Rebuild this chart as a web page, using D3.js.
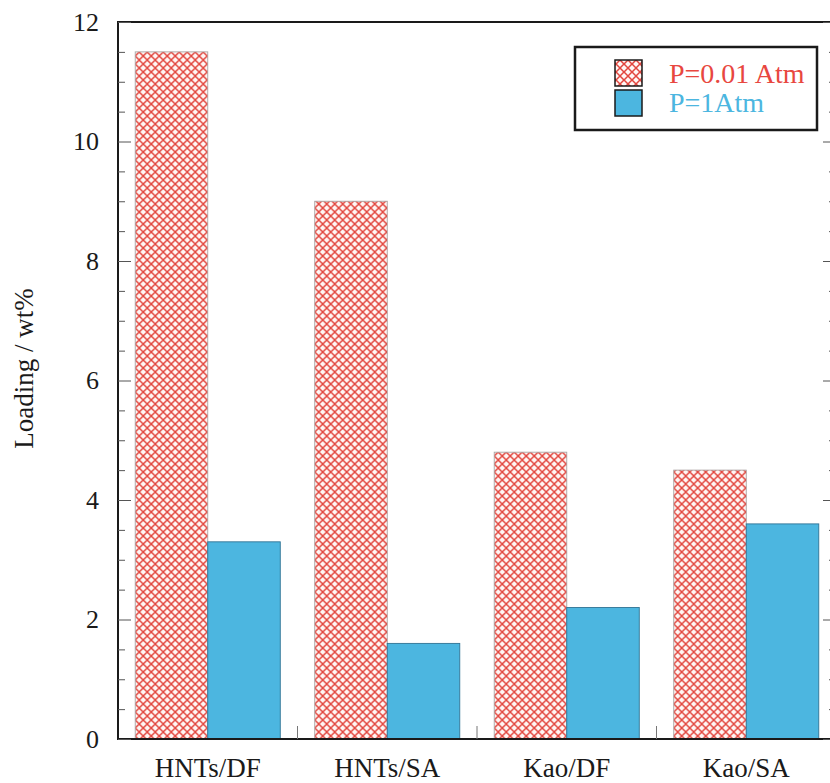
<!DOCTYPE html>
<html>
<head>
<meta charset="utf-8">
<script src="https://cdn.jsdelivr.net/npm/d3@7"></script>
<style>
  html, body { margin: 0; padding: 0; background: #fff; }
  svg { display: block; }
  svg text { font-family: "Liberation Serif", "Times New Roman", serif !important; }
</style>
</head>
<body>
<svg id="chart" width="830" height="783"></svg>
<script>
// Loading of the two samples per support/solvent combination
const categories = ["HNTs/DF", "HNTs/SA", "Kao/DF", "Kao/SA"];
const seriesNames = ["P=0.01 Atm", "P=1Atm"];
const lowPressure = [11.5, 9.0, 4.8, 4.5];
const atmPressure = [3.3, 1.6, 2.2, 3.6];
const yTickValues = [0, 2, 4, 6, 8, 10, 12];
const yTitle = "Loading / wt%";

const seriesColors = { "P=0.01 Atm": "#e8473f", "P=1Atm": "#4cb6e0" };
const serif = '"Liberation Serif", "Times New Roman", serif';
const ink = "#1a1a1a";

const svg = d3.select("#chart");
const plotLeft = 118, plotRight = 836, plotTop = 22, plotBottom = 739;

const y = d3.scaleLinear().domain([0, 12]).range([plotBottom, plotTop]);
const x = d3.scaleBand().domain(categories).range([plotLeft, plotRight])
  .paddingInner(0.192).paddingOuter(0.096);
const xs = d3.scaleBand().domain(seriesNames).range([0, x.bandwidth()]).padding(0);

// cross-hatch fill for the low-pressure bars
const defs = svg.append("defs");
const pat = defs.append("pattern")
  .attr("id", "hatch").attr("patternUnits", "userSpaceOnUse")
  .attr("width", 8).attr("height", 8);
pat.append("rect").attr("width", 8).attr("height", 8).attr("fill", "#fff6f4");
pat.append("path").attr("d", "M0,0L8,8M8,0L0,8")
  .attr("stroke", "#e2463e").attr("stroke-width", 1.5).attr("fill", "none");

const rows = categories.map((c, i) => ({ cat: c, values: [
  { name: seriesNames[0], v: lowPressure[i] },
  { name: seriesNames[1], v: atmPressure[i] }
]}));

const groups = svg.append("g").selectAll("g").data(rows).join("g")
  .attr("transform", d => `translate(${x(d.cat)},0)`);
groups.selectAll("rect").data(d => d.values).join("rect")
  .attr("x", d => xs(d.name))
  .attr("y", d => y(d.v))
  .attr("width", xs.bandwidth())
  .attr("height", d => y(0) - y(d.v))
  .attr("fill", d => d.name === seriesNames[0] ? "url(#hatch)" : seriesColors[d.name])
  .attr("stroke", d => d.name === seriesNames[0] ? "#a9a2a2" : "#2f7394")
  .attr("stroke-width", 0.9);

// frame
svg.append("rect").attr("x", plotLeft).attr("y", plotTop)
  .attr("width", plotRight - plotLeft).attr("height", plotBottom - plotTop)
  .attr("fill", "none").attr("stroke", ink).attr("stroke-width", 2);

// y ticks on left and right, major every 2, minor every 0.5
const minor = d3.range(0, 12.01, 0.5).filter(v => !yTickValues.includes(v));
const leftMajor = d3.axisRight(y).tickValues(yTickValues).tickSize(13).tickFormat("");
const leftMinor = d3.axisRight(y).tickValues(minor).tickSize(7).tickFormat("");
[leftMajor, leftMinor].forEach(ax => {
  const g = svg.append("g").attr("transform", `translate(${plotLeft},0)`).call(ax);
  g.select(".domain").remove();
  g.selectAll("line").attr("stroke", "#555").attr("stroke-width", 1);
});
const rightMajor = d3.axisLeft(y).tickValues(yTickValues).tickSize(13).tickFormat("");
const rightMinor = d3.axisLeft(y).tickValues(minor).tickSize(7).tickFormat("");
[rightMajor, rightMinor].forEach(ax => {
  const g = svg.append("g").attr("transform", `translate(${plotRight},0)`).call(ax);
  g.select(".domain").remove();
  g.selectAll("line").attr("stroke", "#555").attr("stroke-width", 1);
});

// y tick labels
const yLabels = d3.axisLeft(y).tickValues(yTickValues).tickSize(0).tickPadding(19);
const yl = svg.append("g").attr("transform", `translate(${plotLeft},0)`).call(yLabels);
yl.attr("font-family", serif).attr("font-size", 26);
yl.select(".domain").remove();
yl.selectAll("text").style("font-family", serif).style("font-size", "26px").attr("fill", ink);

// category boundary ticks along the bottom
const bounds = categories.slice(1).map(c => x(c) - x.step() * x.paddingInner() / 2);
svg.append("g").selectAll("line").data(bounds).join("line")
  .attr("x1", d => d).attr("x2", d => d)
  .attr("y1", plotBottom).attr("y2", plotBottom - 13)
  .attr("stroke", "#777").attr("stroke-width", 1);

// category labels
const xl = svg.append("g").attr("transform", `translate(0,${plotBottom})`)
  .call(d3.axisBottom(x).tickSize(0).tickPadding(0));
xl.attr("font-family", serif).attr("font-size", 27);
xl.select(".domain").remove();
xl.selectAll("text").style("font-family", serif).style("font-size", "27px")
  .attr("fill", ink).attr("dy", null).attr("y", 38);

// axis title
svg.append("text")
  .attr("transform", `translate(33,${(plotTop + plotBottom) / 2 - 12}) rotate(-90)`)
  .attr("text-anchor", "middle").style("font-family", serif).style("font-size", "27px")
  .attr("fill", ink).text(yTitle);

// legend
const lg = svg.append("g");
lg.append("rect").attr("x", 575).attr("y", 47).attr("width", 242).attr("height", 83)
  .attr("fill", "#fff").attr("stroke", ink).attr("stroke-width", 2.5);
seriesNames.forEach((s, i) => {
  lg.append("rect").attr("x", 615).attr("y", 60 + i * 30).attr("width", 27).attr("height", 26)
    .attr("fill", i === 0 ? "url(#hatch)" : seriesColors[s])
    .attr("stroke", ink).attr("stroke-width", 1.5);
  lg.append("text").attr("x", 669).attr("y", 83 + i * 29)
    .style("font-family", serif).style("font-size", "28px")
    .style("fill", seriesColors[s]).text(s);
});
</script>
</body>
</html>
